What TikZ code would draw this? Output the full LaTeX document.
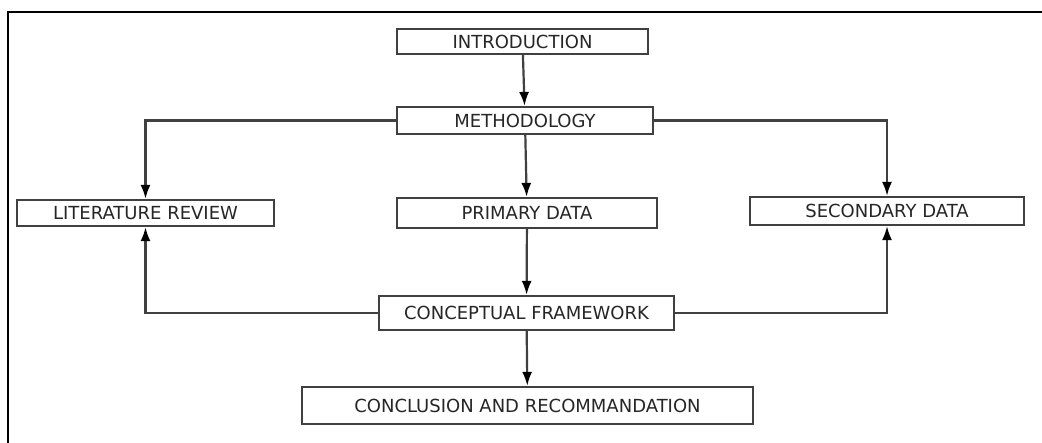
\documentclass[tikz,border=0pt]{standalone}
\usepackage{fontspec}
\setmainfont{DejaVu Sans}
\usepackage{tikz}
\usetikzlibrary{calc}
\usetikzlibrary{arrows.meta}
\tikzset{>={Latex[length=14pt,width=10pt,color=black]}}
\colorlet{linecol}{black!75}
\tikzset{block/.style={draw=linecol,line width=2.2pt,fill=white,inner sep=0pt,font=\fontsize{18}{20}\selectfont,text=black!85}}
\tikzset{link/.style={->,draw=linecol,line width=2.2pt}}

\begin{document}
\begin{tikzpicture}[x=1pt,y=-1pt]
                    \useasboundingbox (0,0) rectangle (1042,443);
                    \coordinate (tl) at (8,12);
                    \coordinate (tr) at (1042,12);
                    \coordinate (bl) at (8,443);
                    \draw[line width=2pt] (bl) -- (tl) -- (tr);

                    \node[block,minimum width=251pt,minimum height=25pt] (intro) at (522.5,41.5) {INTRODUCTION};
                    \node[block,minimum width=256pt,minimum height=27pt] (method) at (525,120.5) {METHODOLOGY};
                    \node[block,minimum width=257pt,minimum height=26pt] (litrev) at (145.5,213) {LITERATURE REVIEW};
                    \node[block,minimum width=260pt,minimum height=30pt] (primary) at (527,213) {PRIMARY DATA};
                    \node[block,minimum width=274pt,minimum height=28pt] (secondary) at (887,211) {SECONDARY DATA};
                    \node[block,minimum width=295pt,minimum height=34pt] (concept) at (526.5,313) {CONCEPTUAL FRAMEWORK};
                    \node[block,minimum width=451pt,minimum height=37pt] (concl) at (527.5,405.5) {CONCLUSION AND RECOMMANDATION};

                    \draw[link] (intro) -- (method);
                    \draw[link] (method) -- (primary);
                    \draw[link] (primary) -- (concept);
                    \draw[link] (concept) -- (concl);
                    \draw[link] (method.west) -| (litrev.north);
                    \draw[link] (method.east) -| (secondary.north);
                    \draw[link] (concept.west) -| (litrev.south);
                    \draw[link] (concept.east) -| (secondary.south);
                \end{tikzpicture}
\end{document}
